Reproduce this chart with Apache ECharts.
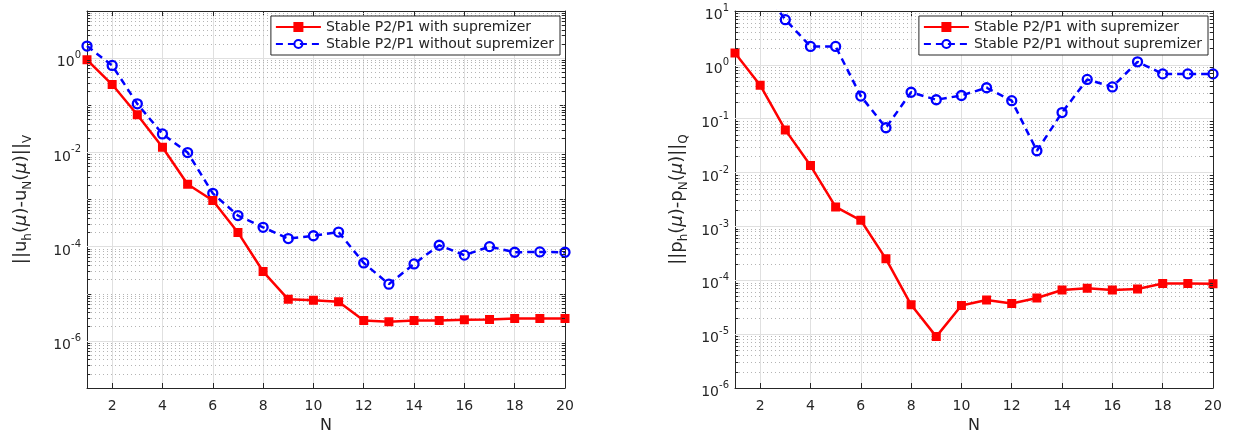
<!DOCTYPE html>
<html>
<head>
<meta charset="utf-8">
<script src="https://cdn.jsdelivr.net/npm/echarts@6/dist/echarts.min.js"></script>
<style>
html,body{margin:0;padding:0;background:#fff;}
#chart{width:1235px;height:439px;}
</style>
</head>
<body>
<div id="chart"></div>
<script>
// ---- data ----
const N = [1,2,3,4,5,6,7,8,9,10,11,12,13,14,15,16,17,18,19,20];
const xTicks = [2,4,6,8,10,12,14,16,18,20];
const uWith    = [0.92,0.275,0.063,0.0128,0.0021,0.00095,0.0002,2.96e-5,7.6e-6,7.3e-6,6.8e-6,2.7e-6,2.55e-6,2.7e-6,2.7e-6,2.8e-6,2.85e-6,3.0e-6,3.0e-6,3.0e-6];
const uWithout = [1.8,0.70,0.107,0.0246,0.0099,0.00135,4.55e-4,2.57e-4,1.48e-4,1.7e-4,2.04e-4,4.5e-5,1.6e-5,4.3e-5,1.07e-4,6.6e-5,1.0e-4,7.6e-5,7.7e-5,7.6e-5];
const pWith    = [1.66,0.42,0.062,0.0135,0.0023,0.0013,2.5e-4,3.5e-5,9e-6,3.4e-5,4.3e-5,3.7e-5,4.7e-5,6.6e-5,7.1e-5,6.6e-5,6.9e-5,8.7e-5,8.7e-5,8.6e-5];
const pWithout = [40,30,6.9,2.2,2.2,0.263,0.068,0.31,0.225,0.27,0.376,0.216,0.0254,0.13,0.536,0.39,1.14,0.68,0.68,0.68];
const seriesNames = ['Stable P2/P1 with supremizer','Stable P2/P1 without supremizer'];
const leftExps = [-7,-6,-5,-4,-3,-2,-1,0,1];
const leftLabeled = [-6,-4,-2,0];
const rightExps = [-6,-5,-4,-3,-2,-1,0,1];
const rightLabeled = [-6,-5,-4,-3,-2,-1,0,1];

const TXT = '#262626';
const FONT = 'DejaVu Sans';
const X_MIN = 1, X_MAX = 20, MINOR_TICK_LEN = 0.13;

function pairs(ys){ return N.map((n,i)=>[n, ys[i]]); }

function tickFmt(labeled){
  return function(v){
    const e = Math.round(Math.log10(v));
    if (labeled.indexOf(e) < 0) return '';
    return '{b|10}{s|' + e + '}';
  };
}
const tickRich = {
  b:{fontSize:14, fontFamily:FONT, color:TXT, lineHeight:23, verticalAlign:'bottom'},
  s:{fontSize:10, fontFamily:FONT, color:TXT, verticalAlign:'top', padding:[4,0,0,0]}
};
const nameRich = {
  n:{fontSize:18, fontFamily:FONT, color:TXT, lineHeight:25, verticalAlign:'top'},
  m:{fontSize:18, fontFamily:FONT, color:TXT, fontStyle:'italic', lineHeight:25, verticalAlign:'top'},
  s:{fontSize:12, fontFamily:FONT, color:TXT, verticalAlign:'bottom', padding:[0,0,3,0]}
};

function gridLines(exps, labeled){
  const major = [], minor = [], ticks = [];
  for (let i = 0; i < exps.length; i++) {
    const e = exps[i];
    const base = Math.pow(10, e);
    if (i > 0 && i < exps.length - 1) {
      if (labeled.indexOf(e) >= 0) major.push({yAxis: base});
      else minor.push({yAxis: base});
    }
    if (i < exps.length - 1) {
      for (let k = 2; k <= 9; k++) {
        const v = k * base;
        minor.push({yAxis: v});
        ticks.push([{coord:[X_MIN, v]}, {coord:[X_MIN + MINOR_TICK_LEN, v]}]);
        ticks.push([{coord:[X_MAX - MINOR_TICK_LEN, v]}, {coord:[X_MAX, v]}]);
      }
    }
  }
  return {major, minor, ticks};
}

function gridSeries(idx, exps, labeled){
  const g = gridLines(exps, labeled);
  const common = {type:'line', data:[], xAxisIndex:idx*2, yAxisIndex:idx*2, silent:true, z:1};
  const ml = {silent:true, symbol:['none','none'], label:{show:false}, animation:false, precision:20, z:1, emphasis:{disabled:true}};
  return [
    Object.assign({}, common, {name:'_minor'+idx, markLine:Object.assign({}, ml, {
      lineStyle:{type:[1,3], color:'#b4b4b4', width:1}, data:g.minor})}),
    Object.assign({}, common, {name:'_major'+idx, markLine:Object.assign({}, ml, {
      lineStyle:{type:'solid', color:'#e0e0e0', width:1}, data:g.major})}),
    Object.assign({}, common, {name:'_ticks'+idx, z:5, markLine:Object.assign({}, ml, {z:5,
      lineStyle:{type:'solid', color:TXT, width:1}, data:g.ticks})})
  ];
}

function dataSeries(idx, withVals, withoutVals){
  return [
    {name:seriesNames[0], type:'line', xAxisIndex:idx*2, yAxisIndex:idx*2, data:pairs(withVals), z:4,
     symbol:'rect', symbolSize:7, showSymbol:true, clip:true,
     lineStyle:{color:'#ff0000', width:2.5},
     itemStyle:{color:'#ff0000', borderColor:'#ff0000', borderWidth:2},
     emphasis:{disabled:true}},
    {name:seriesNames[1], type:'line', xAxisIndex:idx*2, yAxisIndex:idx*2, data:pairs(withoutVals), z:3,
     symbol:'circle', symbolSize:9, showSymbol:true, clip:true,
     lineStyle:{color:'#0000ff', width:2.5, type:[7,5]},
     itemStyle:{color:'rgba(255,255,255,0)', borderColor:'#0000ff', borderWidth:2.3},
     emphasis:{disabled:true}}
  ];
}

function xAxes(gi){
  const base = {type:'value', gridIndex:gi, min:X_MIN, max:X_MAX,
    axisLine:{show:true, lineStyle:{color:TXT, width:1}},
    axisTick:{show:true, inside:true, length:5, lineStyle:{color:TXT}, customValues:xTicks}};
  return [
    Object.assign({}, base, {position:'bottom', name:'N', nameLocation:'middle', nameGap:30,
      nameTextStyle:{fontSize:16, fontFamily:FONT, color:TXT},
      axisLabel:{show:true, margin:11, fontSize:14, fontFamily:FONT, color:TXT, customValues:xTicks},
      splitLine:{show:true, lineStyle:{color:'#e0e0e0', width:1}}}),
    Object.assign({}, base, {position:'top', axisLabel:{show:false}, splitLine:{show:false}})
  ];
}

function yAxes(gi, min, max, labeled, name, gap){
  const base = {type:'log', logBase:10, gridIndex:gi, min:min, max:max, splitNumber:10,
    axisLine:{show:true, lineStyle:{color:TXT, width:1}},
    axisTick:{show:true, inside:true, length:5, lineStyle:{color:TXT}},
    splitLine:{show:false}, minorTick:{show:false}, minorSplitLine:{show:false}};
  return [
    Object.assign({}, base, {position:'left', name:name, nameLocation:'middle', nameRotate:90, nameGap:gap,
      nameTextStyle:{rich:nameRich},
      axisLabel:{show:true, margin:6, formatter:tickFmt(labeled), rich:tickRich}}),
    Object.assign({}, base, {position:'right', axisLabel:{show:false}})
  ];
}

const legendBase = {orient:'vertical', top:16, itemGap:3, itemWidth:45, itemHeight:10,
  backgroundColor:'#ffffff', borderColor:TXT, borderWidth:1, borderRadius:0, padding:[4,6,4,4],
  textStyle:{fontSize:14, fontFamily:FONT, color:TXT}, selectedMode:false, data:seriesNames};

const chart = echarts.init(document.getElementById('chart'), null, {renderer:'canvas'});
chart.setOption({
  animation:false,
  backgroundColor:'#ffffff',
  grid:[
    {left:87, right:670, top:11, bottom:50},
    {left:735, right:22, top:11, bottom:50}
  ],
  legend:[
    Object.assign({}, legendBase, {right:675}),
    Object.assign({}, legendBase, {right:27})
  ],
  xAxis:[].concat(xAxes(0), xAxes(1)),
  yAxis:[].concat(
    yAxes(0, 1e-7, 10, leftLabeled, '{n|||u}{s|h}{n|(}{m|μ}{n|)-u}{s|N}{n|(}{m|μ}{n|)||}{s|V}', 50),
    yAxes(1, 1e-6, 10, rightLabeled, '{n|||p}{s|h}{n|(}{m|μ}{n|)-p}{s|N}{n|(}{m|μ}{n|)||}{s|Q}', 42)
  ),
  series:[].concat(
    gridSeries(0, leftExps, leftLabeled), dataSeries(0, uWith, uWithout),
    gridSeries(1, rightExps, rightLabeled), dataSeries(1, pWith, pWithout)
  )
});
</script>
</body>
</html>
